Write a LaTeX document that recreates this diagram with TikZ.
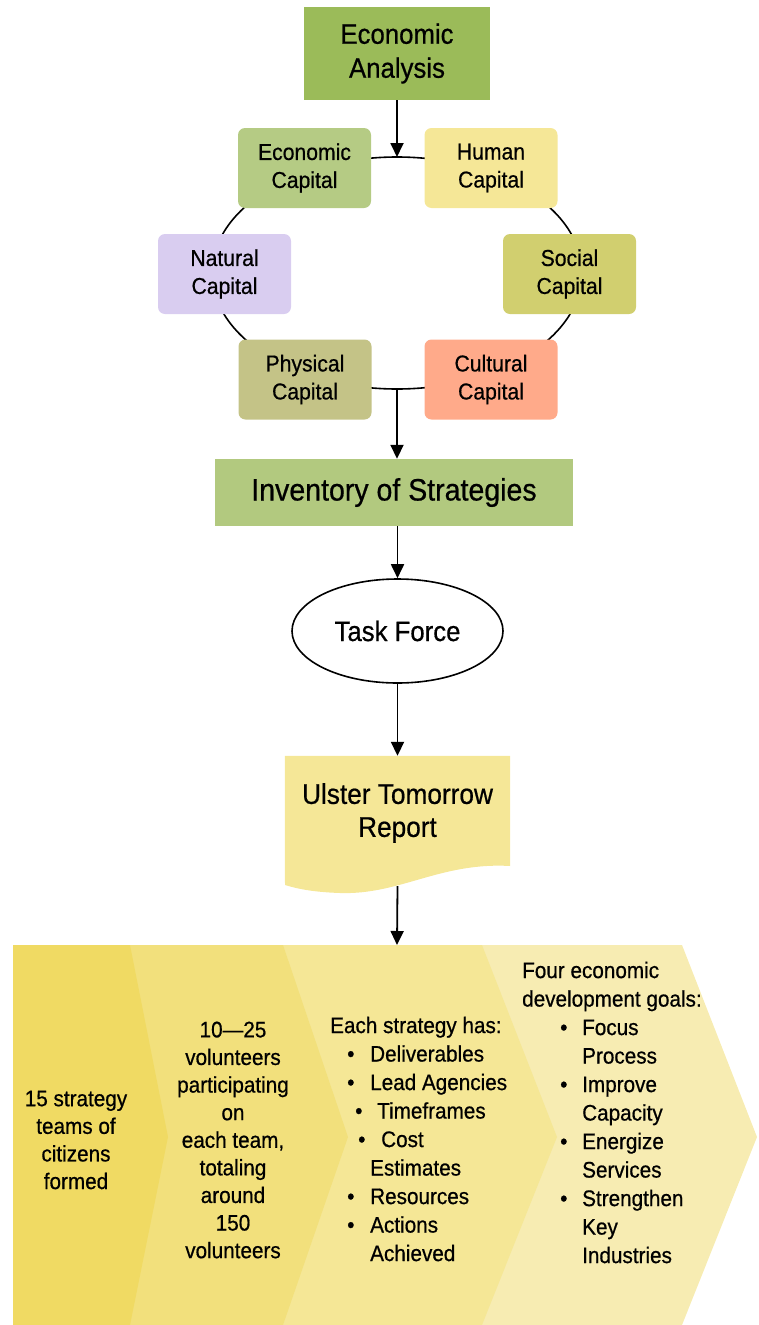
\documentclass[tikz,border=0pt]{standalone}
\usepackage{fontspec}
\setmainfont{Liberation Sans}[FakeStretch=0.92,FakeBold=0.6]
\usetikzlibrary{arrows.meta,shapes.geometric}
\definecolor{eafill}{HTML}{9BBB59}
\definecolor{ecapfill}{HTML}{B5CB84}
\definecolor{hcapfill}{HTML}{F5E797}
\definecolor{ncapfill}{HTML}{D9CDF0}
\definecolor{scapfill}{HTML}{D1CF6F}
\definecolor{pcapfill}{HTML}{C4C387}
\definecolor{ccapfill}{HTML}{FFAA8A}
\definecolor{invfill}{HTML}{B2C97F}
\definecolor{repfill}{HTML}{F5E797}
\definecolor{chevA}{HTML}{F0DA63}
\definecolor{chevB}{HTML}{F2E07C}
\definecolor{chevC}{HTML}{F5E796}
\definecolor{chevD}{HTML}{F7ECB2}
\newcommand{\itm}[3]{\hspace*{#1pt}\makebox[#2pt][l]{\textbullet}#3}
\begin{document}
\begin{tikzpicture}[x=1pt,y=-1pt,
    capbox/.style={rounded corners=7pt,minimum width=133pt,minimum height=80pt,
        align=center,inner sep=0pt,font=\fontsize{23}{28}\selectfont},
    flow/.style={-{Triangle[width=13pt,length=14pt]},line width=1.8pt},
    chevtext/.style={inner sep=0pt,align=center,font=\fontsize{22.5}{27.6}\selectfont},
    listtext/.style={inner sep=0pt,align=left,anchor=west,font=\fontsize{22.5}{28.5}\selectfont}]
    \useasboundingbox (0,0) rectangle (758,1325);

    \node[fill=eafill,minimum width=186pt,minimum height=93pt,align=center,
        font=\fontsize{28}{34}\selectfont] (ea) at (397,53.5) {Economic\\Analysis};

    \coordinate (ring) at (397,273);
    \coordinate (ringtop) at (397,157);
    \coordinate (ringbot) at (397,389);
    \draw[line width=1.6pt] (ring) ellipse [x radius=185, y radius=116];

    \foreach \nm/\x/\y/\col/\txt in {ecap/304.5/168/ecapfill/Economic\\Capital,
        hcap/491/168/hcapfill/Human\\Capital,
        ncap/224.5/274/ncapfill/Natural\\Capital,
        scap/569.5/274/scapfill/Social\\Capital,
        pcap/305/379.5/pcapfill/Physical\\Capital,
        ccap/491/379.5/ccapfill/Cultural\\Capital}
    {
        \node[capbox,fill=\col] (\nm) at (\x,\y) {\txt};
    }

    \node[fill=invfill,minimum width=358pt,minimum height=67pt,
        font=\fontsize{31}{35}\selectfont] (inv) at (394,492.5) {Inventory of Strategies};

    \node[ellipse,draw,line width=1.6pt,minimum width=211pt,minimum height=104pt,
        font=\fontsize{28}{32}\selectfont] (task) at (397.5,631) {Task Force};

    \node[minimum width=225pt,minimum height=130pt] (report) at (397.5,821) {};
    \fill[repfill] (report.north west) -- (report.north east) -- (510,866)
        .. controls (440,862) and (400,895) .. (340,893)
        .. controls (310,892) and (295,888) .. (285,885) -- cycle;
    \node[align=center,font=\fontsize{28.5}{33}\selectfont] (reptext) at (397.5,813)
        {Ulster Tomorrow\\Report};

    \coordinate (chevtop) at (397,945);
    \foreach \xe/\xp/\col in {682/757/chevD,482/557/chevC,283/348/chevB,130/168/chevA}
    {
        \fill[\col] (13,945) -- (\xe,945) -- (\xp,1137) -- (\xe,1325) -- (13,1325) -- cycle;
    }

    \draw[flow] (ea) -- (ringtop);
    \draw[flow] (ringbot) -- (ringbot |- inv.north);
    \draw[flow] (inv.south -| task) -- (task);
    \draw[flow] (task) -- (report);
    \draw[flow] (report.south) -- (chevtop);

    \node[chevtext] (teams) at (76,1140) {15 strategy\\teams of\\citizens\\formed};
    \node[chevtext] (vols) at (233,1140)
        {10---25\\volunteers\\participating\\on\\each team,\\totaling\\around\\150\\volunteers};
    \node[listtext] (strat) at (330,1139) {Each strategy has:\\
        \itm{17}{23}{Deliverables}\\
        \itm{17}{23}{Lead Agencies}\\
        \itm{25}{22}{Timeframes}\\
        \itm{28}{23}{Cost}\\
        \hspace*{40pt}Estimates\\
        \itm{17}{23}{Resources}\\
        \itm{17}{23}{Actions}\\
        \hspace*{40pt}Achieved};
    \node[listtext] (goals) at (522,1112.5) {Four economic\\development goals:\\
        \itm{38}{22}{Focus}\\
        \hspace*{60pt}Process\\
        \itm{38}{22}{Improve}\\
        \hspace*{60pt}Capacity\\
        \itm{38}{22}{Energize}\\
        \hspace*{60pt}Services\\
        \itm{38}{22}{Strengthen}\\
        \hspace*{60pt}Key\\
        \hspace*{60pt}Industries};
\end{tikzpicture}
\end{document}
